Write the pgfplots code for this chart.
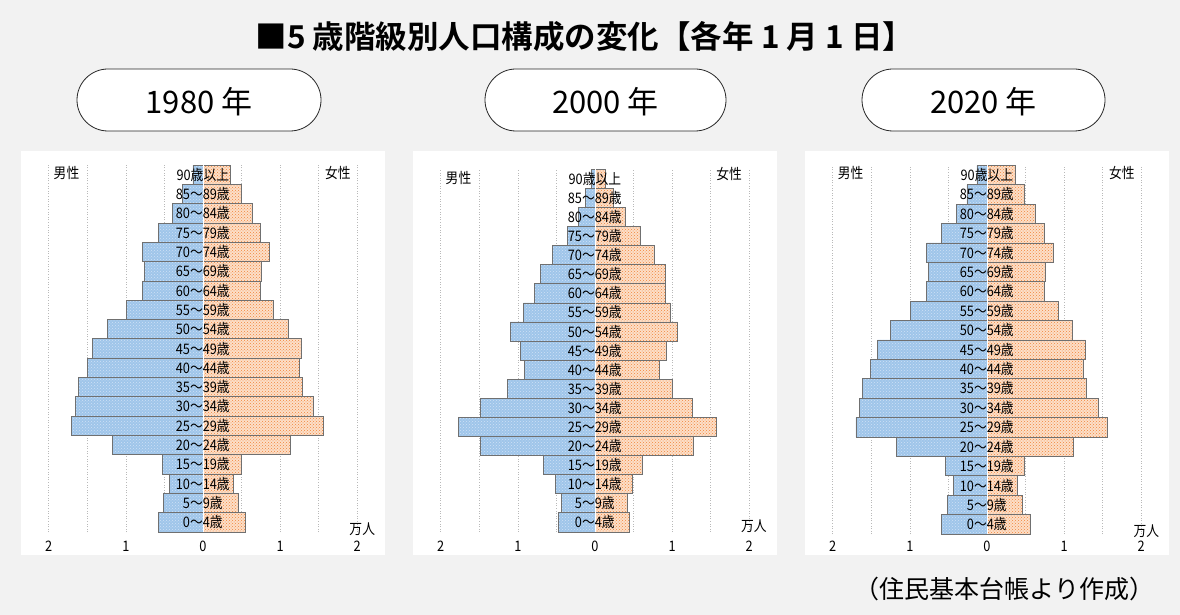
\documentclass[border=0pt]{standalone}
\usepackage{fontspec}
\usepackage{pgfplots}
\usepackage{pgfplotstable}
\pgfplotsset{compat=1.18}
\usetikzlibrary{patterns}
\setmainfont{Noto Sans CJK JP}[BoldFont={Noto Sans CJK JP Bold}]
\newfontfamily\lab{Noto Sans CJK JP}[FakeStretch=0.88]
\newcommand\labfont{\fontsize{14.5pt}{16pt}\lab}
\definecolor{bgc}{HTML}{F2F2F2}
\definecolor{mfill}{HTML}{9FC5EA}
\definecolor{mdot}{HTML}{CFE2F5}
\definecolor{ffill}{HTML}{FCDFC8}
\definecolor{fdot}{HTML}{F2843A}
\definecolor{bord}{HTML}{707070}

\pgfplotstableread{
y m f
0 0.58 0.55
1 0.51 0.46
2 0.44 0.40
3 0.53 0.50
4 1.17 1.13
5 1.70 1.56
6 1.65 1.43
7 1.61 1.29
8 1.50 1.25
9 1.43 1.27
10 1.24 1.11
11 0.99 0.91
12 0.78 0.75
13 0.76 0.76
14 0.79 0.86
15 0.58 0.74
16 0.40 0.64
17 0.27 0.50
18 0.13 0.36
}\tabA
\pgfplotstableread{
y m f
0 0.47 0.45
1 0.44 0.42
2 0.51 0.49
3 0.67 0.62
4 1.48 1.27
5 1.77 1.58
6 1.48 1.26
7 1.13 1.00
8 0.91 0.84
9 0.97 0.92
10 1.10 1.07
11 0.93 0.98
12 0.79 0.91
13 0.71 0.91
14 0.55 0.77
15 0.36 0.59
16 0.22 0.39
17 0.12 0.24
18 0.05 0.13
}\tabB
\pgfplotstableread{
y m f
0 0.59 0.56
1 0.51 0.46
2 0.44 0.40
3 0.54 0.49
4 1.17 1.12
5 1.70 1.56
6 1.65 1.44
7 1.61 1.29
8 1.51 1.25
9 1.42 1.28
10 1.25 1.11
11 0.99 0.92
12 0.78 0.75
13 0.76 0.76
14 0.78 0.86
15 0.59 0.75
16 0.40 0.63
17 0.26 0.49
18 0.13 0.37
}\tabC

\pgfplotsset{
  pyr/.style={
    anchor=south west, scale only axis,
    width=364pt, height=404pt,
    xmin=-2.36, xmax=2.36,
    axis background/.style={fill=white},
    axis line style={draw=none},
    axis on top=true,
    major tick length=0pt, minor tick length=0pt,
    xtick={-2,-1,0,1,2}, xticklabels={2,1,0,1,2},
    xticklabel style={anchor=base, yshift=3pt, font=\labfont},
    ytick={0,...,18},
    yticklabels={0～4歳,5～9歳,10～14歳,15～19歳,20～24歳,25～29歳,30～34歳,35～39歳,40～44歳,45～49歳,50～54歳,55～59歳,60～64歳,65～69歳,70～74歳,75～79歳,80～84歳,85～89歳,90歳以上},
    yticklabel style={anchor=center, xshift=181.8pt, font=\labfont, inner sep=0pt},
    clip=false,
  },
  gl/.style={draw=gray!55, dotted, line width=0.6pt, forget plot},
  mbar/.style={xbar, bar width=1, bar shift=0pt, fill=mfill, draw=bord, line width=0.8pt,
     postaction={pattern=crosshatch dots, pattern color=mdot}},
  fbar/.style={xbar, bar width=1, bar shift=0pt, fill=ffill, draw=bord, line width=0.8pt,
     postaction={pattern=crosshatch dots, pattern color=fdot}},
}

\newcommand\pyramid[1]{%
  \pgfplotsinvokeforeach{-2,-1.5,-1,-0.5,0.5,1,1.5,2}{%
    \addplot[gl] coordinates {(##1,-0.5) (##1,18.5)};
  }
  \addplot[mbar] table[x expr=-\thisrow{m}, y=y] {#1};
  \addplot[fbar] table[x=f, y=y] {#1};
  \addplot[white, line width=1pt, forget plot] coordinates {(0,-0.5) (0,18.5)};
}

\begin{document}
\begin{tikzpicture}[x=1pt,y=1pt]
\fill[bgc] (0,0) rectangle (1180,615);
\path[use as bounding box] (0,0) rectangle (1180,615);

\node[font=\fontsize{31.5pt}{34pt}\selectfont\bfseries] at (585,578) {■5 歳階級別人口構成の変化【各年 1 月 1 日】};

\draw[fill=white, draw=black!85, line width=0.8pt, rounded corners=31pt] (77,484) rectangle (321,546);
\draw[fill=white, draw=black!85, line width=0.8pt, rounded corners=31pt] (485,484) rectangle (726,546);
\draw[fill=white, draw=black!85, line width=0.8pt, rounded corners=31pt] (862,484) rectangle (1105,546);
\node[font=\fontsize{31pt}{34pt}\selectfont] at (199,513) {1980 年};
\node[font=\fontsize{31pt}{34pt}\selectfont] at (605.5,513) {2000 年};
\node[font=\fontsize{31pt}{34pt}\selectfont] at (983.5,513) {2020 年};

\begin{axis}[pyr, at={(21pt,60pt)}, ymin=-1.69, ymax=19.23]
\pyramid{\tabA}
\node[font=\labfont] at (axis cs:-1.77,18.1) {男性};
\node[font=\labfont] at (axis cs:1.75,18.1) {女性};
\node[font=\labfont] at (axis cs:2.065,-0.34) {万人};
\end{axis}

\begin{axis}[pyr, at={(413pt,60pt)}, ymin=-1.71, ymax=19.46]
\pyramid{\tabB}
\node[font=\labfont] at (axis cs:-1.77,18.05) {男性};
\node[font=\labfont] at (axis cs:1.74,18.25) {女性};
\node[font=\labfont] at (axis cs:2.06,-0.2) {万人};
\end{axis}

\begin{axis}[pyr, at={(805pt,60pt)}, ymin=-1.58, ymax=19.24]
\pyramid{\tabC}
\node[font=\labfont] at (axis cs:-1.77,18.1) {男性};
\node[font=\labfont] at (axis cs:1.75,18.1) {女性};
\node[font=\labfont] at (axis cs:2.065,-0.34) {万人};
\end{axis}

\node[font=\fontsize{25pt}{28pt}\selectfont, anchor=east] at (1158,26) {（住民基本台帳より作成）};
\end{tikzpicture}
\end{document}
